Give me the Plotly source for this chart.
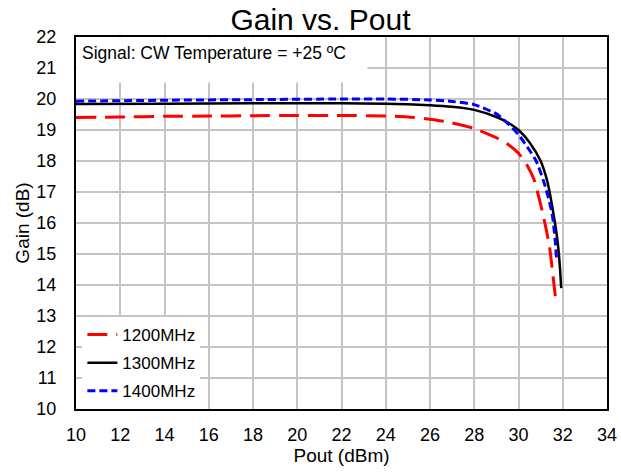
import plotly.graph_objects as go

# Data
x_1200 = [10, 12, 14, 16, 18, 20, 22, 24, 25, 26, 27, 28, 29, 29.5, 30, 30.4, 30.7, 31.1, 31.4, 31.58, 31.67]
g_1200 = [19.40, 19.42, 19.44, 19.45, 19.46, 19.47, 19.47, 19.45, 19.42, 19.35, 19.23, 19.05, 18.75, 18.55, 18.25, 17.85, 17.4, 16.3, 15.24, 14.16, 13.6]

x_1300 = [10, 14, 18, 22, 24, 26, 27, 28, 29, 29.5, 30, 30.5, 31, 31.3, 31.58, 31.75, 31.86, 31.93]
g_1300 = [19.84, 19.85, 19.86, 19.86, 19.85, 19.80, 19.75, 19.65, 19.42, 19.25, 19.0, 18.6, 18.0, 17.35, 16.3, 15.5, 14.7, 13.9]

x_1400 = [10, 14, 18, 22, 24, 26, 27, 28, 29, 29.5, 30, 30.4, 30.8, 31.2, 31.52, 31.65, 31.73]
g_1400 = [19.93, 19.96, 19.98, 20.0, 20.0, 19.97, 19.92, 19.82, 19.52, 19.22, 18.85, 18.45, 18.0, 17.2, 16.3, 15.5, 14.75]

x_ticks = list(range(10, 35, 2))
y_ticks = list(range(10, 23, 1))

font_family = "Liberation Sans, Arial, sans-serif"

fig = go.Figure()
fig.add_trace(go.Scatter(x=x_1200, y=g_1200, mode="lines", name="1200MHz", legendgroup="a",
                         line=dict(color="#ff0000", width=3, dash="20px,9px", shape="spline", smoothing=0.6)))
fig.add_trace(go.Scatter(x=x_1300, y=g_1300, mode="lines", name="1300MHz", legendgroup="b",
                         line=dict(color="#000000", width=2.5, shape="spline", smoothing=0.6)))
fig.add_trace(go.Scatter(x=x_1400, y=g_1400, mode="lines", name="1400MHz", legendgroup="c",
                         line=dict(color="#0000ff", width=3, dash="8px,4px", shape="spline", smoothing=0.6)))

fig.update_layout(
    width=621, height=473,
    margin=dict(l=76, r=14, t=37, b=64),
    paper_bgcolor="white", plot_bgcolor="white",
    font=dict(family=font_family, color="black"),
    title=dict(text="Gain vs. Pout", x=0.516, xref="container", xanchor="center",
               y=0.982, yanchor="top", pad=dict(t=0, b=0),
               font=dict(size=30, family=font_family)),
    showlegend=True,
    legend=dict(x=0.012, y=0.0, xanchor="left", yanchor="bottom", bgcolor="white",
                font=dict(size=17, family=font_family), tracegroupgap=3, itemwidth=30),
    xaxis=dict(range=[10, 34], tickvals=x_ticks, ticktext=[str(v) for v in x_ticks],
               showgrid=True, gridcolor="#c4c4c4", gridwidth=1.5,
               showline=True, linecolor="black", linewidth=2, mirror=True,
               ticks="", tickfont=dict(size=18), zeroline=False, automargin=False,
               ticklabelstandoff=8,
               title=dict(text="Pout (dBm)", font=dict(size=19), standoff=5)),
    yaxis=dict(range=[10, 22], tickvals=y_ticks, ticktext=[str(v) for v in y_ticks],
               showgrid=True, gridcolor="#c4c4c4", gridwidth=1.5,
               showline=True, linecolor="black", linewidth=2, mirror=True,
               ticks="", tickfont=dict(size=18), zeroline=False, automargin=False,
               ticklabelstandoff=14,
               title=dict(text="Gain (dB)", font=dict(size=19), standoff=2)),
    annotations=[dict(text="Signal: CW Temperature = +25 ºC", xref="paper", yref="paper",
                      x=0.0, y=1.0, xanchor="left", yanchor="top", showarrow=False,
                      bgcolor="white", font=dict(size=17.5, family=font_family),
                      width=280, height=34, align="left", valign="top",
                      borderpad=5)],
)

fig.write_html(
    "out.html",
    config={"displayModeBar": False},
    post_script="document.body.style.margin='0';document.body.style.overflow='hidden';",
)
